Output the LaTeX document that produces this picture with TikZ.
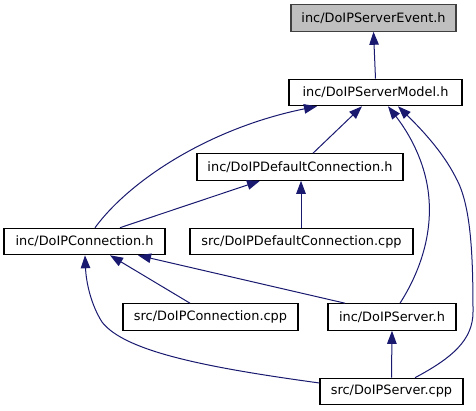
\documentclass[tikz,border=0pt]{standalone}
\usepackage{fontspec}
\setmainfont{DejaVu Sans}
\usetikzlibrary{arrows.meta}
\definecolor{edgeblue}{HTML}{191970}
\definecolor{rootgray}{HTML}{BFBFBF}
\tikzset{
  filebox/.style={draw=black, line width=1.1pt, fill=white, rectangle, inner sep=0pt,
    minimum height=26.5pt, font=\fontsize{12.9}{15}\selectfont},
  rootbox/.style={filebox, fill=rootgray, draw=black!75},
  dep/.style={draw=edgeblue, line width=1pt,
    -{Triangle[length=13pt,width=9.5pt,fill=edgeblue]}},
}
\begin{document}
\begin{tikzpicture}[x=1pt,y=-1pt]
\useasboundingbox (0,0) rectangle (476,411);
\node[rootbox, minimum width=165pt] (event) at (373.5,18) {inc/DoIPServerEvent.h};
\node[filebox, minimum width=173pt] (model) at (375.5,92.5) {inc/DoIPServerModel.h};
\node[filebox, minimum width=206pt] (dch) at (300,167) {inc/DoIPDefaultConnection.h};
\node[filebox, minimum width=161pt] (conn) at (84.5,241.5) {inc/DoIPConnection.h};
\node[filebox, minimum width=223pt] (dcpp) at (301.5,241.5) {src/DoIPDefaultConnection.cpp};
\node[filebox, minimum width=175pt] (ccpp) at (210.5,317) {src/DoIPConnection.cpp};
\node[filebox, minimum width=128pt] (sh) at (392,317) {inc/DoIPServer.h};
\node[filebox, minimum width=143pt] (scpp) at (391.5,391.5) {src/DoIPServer.cpp};

\draw[dep] (model.north) -- (event.south);
\draw[dep] ([xshift=13pt]dch.north) -- ([xshift=-13.5pt]model.south);
\draw[dep] ([xshift=10.5pt]conn.north) .. controls (130,180) and (210,128) .. ([xshift=-58.5pt]model.south);
\draw[dep] ([xshift=8pt]sh.north) .. controls (420,272) and (434,232) .. (428,190) .. controls (423,155) and (405,128) .. ([xshift=12.5pt]model.south);
\draw[dep] ([xshift=23.5pt]scpp.north) .. controls (452,358) and (473,340) .. (473,312) .. controls (473,255) and (471,205) .. (456,178) .. controls (442,150) and (418,126) .. ([xshift=22.5pt]model.south);
\draw[dep] ([xshift=35.5pt]conn.north) -- ([xshift=-40pt]dch.south);
\draw[dep] ([xshift=-0.5pt]dcpp.north) -- ([xshift=1pt]dch.south);
\draw[dep] ([xshift=-20.5pt]ccpp.north) -- ([xshift=25.5pt]conn.south);
\draw[dep] ([xshift=-47pt]sh.north) -- ([xshift=53.5pt]conn.south);
\draw[dep] ([yshift=8.5pt]scpp.west) .. controls (210,368) and (125,352) .. (102,322) .. controls (90,303) and (86,280) .. ([xshift=0.5pt]conn.south);
\draw[dep] (scpp.north) -- (sh.south);
\end{tikzpicture}
\end{document}
